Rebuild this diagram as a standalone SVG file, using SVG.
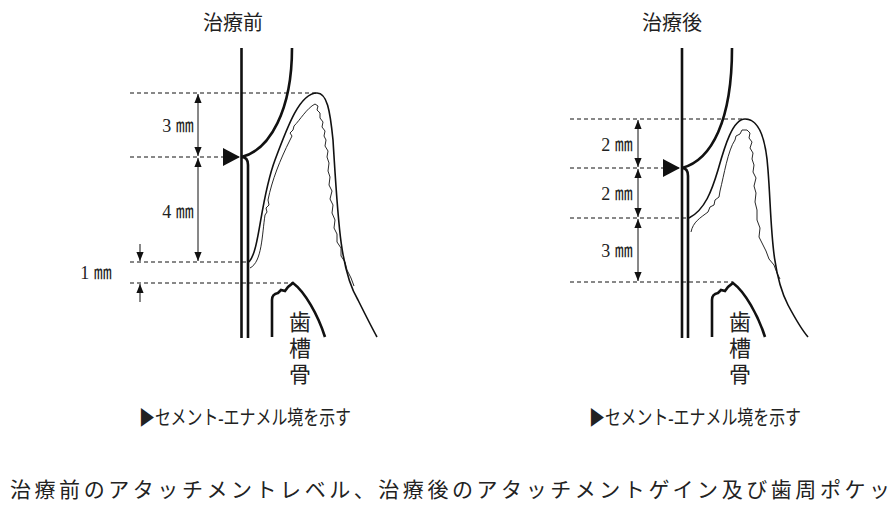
<svg xmlns="http://www.w3.org/2000/svg" width="896" height="516" viewBox="0 0 896 516">
<style>
text{font-family:"Liberation Serif","Noto Sans CJK JP",serif;fill:#222}
.t{font-size:20px}
.d{font-size:18px}
.b{font-size:22px}
.thick{fill:none;stroke:#111;stroke-width:2.6}
.line{fill:none;stroke:#111;stroke-width:1.6}
.thin{fill:none;stroke:#111;stroke-width:0.9}
.dash{stroke:#111;stroke-width:1;stroke-dasharray:4 3}
.dim{stroke:#111;stroke-width:1;marker-start:url(#ah);marker-end:url(#ah)}
.one{stroke:#111;stroke-width:1;marker-end:url(#ah)}
</style>
<defs>
<marker id="ah" viewBox="0 0 10 10" refX="10" refY="5" markerWidth="9" markerHeight="9" markerUnits="userSpaceOnUse" orient="auto-start-reverse"><path d="M0,1 L10,5 L0,9 z" fill="#111"/></marker>
</defs>
<rect width="896" height="516" fill="#fff"/>

<g id="before">
<text class="t" x="233" y="30" text-anchor="middle">治療前</text>
<path class="thick" d="M241.5,48 V338"/>
<path class="thick" d="M241.5,157 Q248,157 248,165 V338"/>
<path class="thick" d="M292,48 C292,110 270,150 241.5,157"/>
<path class="line" d="M249,262 C260,250 260,200 275,160 C288,125 300,93 317,93 C327,93 330,110 333,140 C338,220 340,270 358,300 C366,316 372,328 377,337"/>
<path class="thin" d="M250,268 C262,262 262,235 265,215 l2,-3 l-1,-4 l3,-3 l-1,-5 C272,180 280,160 290,140 l2,-4 l-2,-3 l3,-3 l1,-4 C300,120 307,108 315,104 l3,2 l-1,4 l3,3 l0,5 l3,4 l-1,5 l3,4 l-1,5 l2,4 l-1,6 l3,5 l-1,6 l2,6 l-1,8 l2,6 l-1,8 l3,6 l-2,8 l3,6 l-1,8 l3,7 l-1,8 l3,6 l0,8 l4,6 l0,8 l4,6 l2,8 l4,8 l3,8"/>
<path class="thick" d="M272,337 V300 Q272,294 278,293 l3,-3 l4,1 l3,-4 l5,-4 C305,292 318,315 325,337"/>
<path d="M223,148 L240,157 L223,166 z" fill="#111"/>
<text class="b" x="300" y="330" text-anchor="middle">歯</text>
<text class="b" x="300" y="356" text-anchor="middle">槽</text>
<text class="b" x="300" y="382" text-anchor="middle">骨</text>
<text class="t" x="245" y="425" text-anchor="middle" textLength="212" lengthAdjust="spacingAndGlyphs">▶セメント-エナメル境を示す</text>
</g>

<g id="after">
<text class="t" x="672" y="30" text-anchor="middle">治療後</text>
<path class="thick" d="M682,48 V338"/>
<path class="thick" d="M682,168 Q688,168 688,176 V338"/>
<path class="thick" d="M732,48 C732,120 712,160 682,168"/>
<path class="line" d="M689,218 C705,210 712,190 718,170 C725,145 733,119 745,119 C760,119 766,140 768,170 C772,220 770,270 788,305 C796,320 802,330 808,337"/>
<path class="thin" d="M691,232 C693,222 700,218 708,212 l2,-5 l4,-2 l1,-5 l4,-3 l1,-6 C724,175 728,150 735,140 l1,-4 l4,-2 l2,-4 l5,0 l3,3 l-1,5 l3,4 l-2,6 l3,5 l-1,6 l2,6 l-1,7 l3,6 l-2,8 l2,7 l-1,9 l2,8 l0,10 l3,8 l-1,9 l3,6 l4,8 l3,8 l5,6 l3,8 l3,6"/>
<path class="thick" d="M712,337 V300 Q712,294 718,293 l3,-3 l4,1 l3,-4 l5,-4 C745,292 758,315 765,337"/>
<path d="M663,159 L680,168 L663,177 z" fill="#111"/>
<text class="b" x="740" y="330" text-anchor="middle">歯</text>
<text class="b" x="740" y="356" text-anchor="middle">槽</text>
<text class="b" x="740" y="382" text-anchor="middle">骨</text>
<text class="t" x="695" y="425" text-anchor="middle" textLength="212" lengthAdjust="spacingAndGlyphs">▶セメント-エナメル境を示す</text>
</g>

<g id="connectors">
<line class="dash" x1="130" y1="93" x2="317" y2="93"/>
<line class="dash" x1="130" y1="157" x2="240" y2="157"/>
<line class="dash" x1="130" y1="262" x2="249" y2="262"/>
<line class="dash" x1="130" y1="283" x2="293" y2="283"/>
<line class="dim" x1="198" y1="94" x2="198" y2="156"/>
<line class="dim" x1="198" y1="158" x2="198" y2="261"/>
<line class="one" x1="140" y1="244" x2="140" y2="261"/>
<line class="one" x1="140" y1="302" x2="140" y2="284"/>
<text class="d" x="178" y="132" text-anchor="middle">3 ㎜</text>
<text class="d" x="178" y="218" text-anchor="middle">4 ㎜</text>
<text class="d" x="96" y="279" text-anchor="middle">1 ㎜</text>

<line class="dash" x1="570" y1="119" x2="745" y2="119"/>
<line class="dash" x1="570" y1="168" x2="680" y2="168"/>
<line class="dash" x1="570" y1="218" x2="689" y2="218"/>
<line class="dash" x1="570" y1="282" x2="733" y2="282"/>
<line class="dim" x1="638" y1="120" x2="638" y2="167"/>
<line class="dim" x1="638" y1="169" x2="638" y2="217"/>
<line class="dim" x1="638" y1="219" x2="638" y2="281"/>
<text class="d" x="617" y="151" text-anchor="middle">2 ㎜</text>
<text class="d" x="617" y="200" text-anchor="middle">2 ㎜</text>
<text class="d" x="617" y="257" text-anchor="middle">3 ㎜</text>
</g>

<text x="10" y="497" style="font-size:21px" textLength="880" lengthAdjust="spacing">治療前のアタッチメントレベル、治療後のアタッチメントゲイン及び歯周ポケッ</text>
</svg>
